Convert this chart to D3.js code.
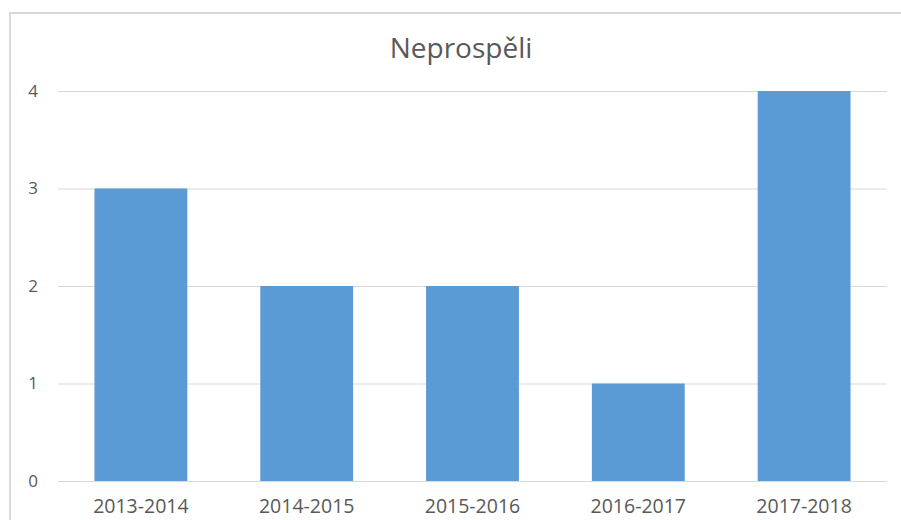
<!DOCTYPE html>
<html>
<head>
<meta charset="utf-8">
<script src="https://cdn.jsdelivr.net/npm/d3@7"></script>
<style>
  body { margin: 0; background: #fff; }
  text { font-family: "Open Sans", "Noto Sans", sans-serif; fill: #595959; }
</style>
</head>
<body>
<div id="grafico"></div>
<script>
// Datos del grafico
const categorias = ["2013-2014", "2014-2015", "2015-2016", "2016-2017", "2017-2018"];
const valores = [3, 2, 2, 1, 4];
const ticksY = [0, 1, 2, 3, 4];
const titulo = "Neprospěli";

const width = 901, height = 520;
const margin = { top: 91, right: 14, bottom: 39, left: 58 };

const svg = d3
  .select("#grafico")
  .append("svg")
  .attr("width", width)
  .attr("height", height);

// Borde del area del grafico (solo arriba e izquierda visibles)
svg.append("path")
  .attr("d", "M10,520 V13 H901")
  .attr("fill", "none")
  .attr("stroke", "#d9d9d9")
  .attr("stroke-width", 2);

const x = d3.scaleBand()
  .domain(categorias)
  .range([margin.left, width - margin.right])
  .paddingInner(0.44)
  .paddingOuter(0.22);

const y = d3.scaleLinear()
  .domain([0, 4])
  .range([height - margin.bottom, margin.top]);

// Lineas de la cuadricula
svg.append("g")
  .selectAll("line")
  .data(ticksY)
  .enter()
  .append("line")
  .attr("x1", margin.left)
  .attr("x2", width - margin.right)
  .attr("y1", d => y(d) + 0.5)
  .attr("y2", d => y(d) + 0.5)
  .attr("stroke", "#d9d9d9")
  .attr("stroke-width", 1);

// Barras
svg.append("g")
  .selectAll("rect")
  .data(valores)
  .enter()
  .append("rect")
  .attr("x", (d, i) => x(categorias[i]))
  .attr("y", d => y(d))
  .attr("width", x.bandwidth())
  .attr("height", d => y(0) - y(d))
  .attr("fill", "#5b9bd5");

// Etiquetas eje Y
svg.append("g")
  .selectAll("text")
  .data(ticksY)
  .enter()
  .append("text")
  .attr("x", 38)
  .attr("y", d => y(d))
  .attr("dy", ".35em")
  .attr("text-anchor", "end")
  .style("font-size", "17px")
  .text(d => d);

// Etiquetas eje X
svg.append("g")
  .selectAll("text")
  .data(categorias)
  .enter()
  .append("text")
  .attr("x", d => x(d) + x.bandwidth() / 2)
  .attr("y", 513)
  .attr("text-anchor", "middle")
  .style("font-size", "19.5px")
  .text(d => d);

// Titulo
svg.append("text")
  .attr("x", 461)
  .attr("y", 58)
  .attr("text-anchor", "middle")
  .style("font-size", "28px")
  .text(titulo);
</script>
</body>
</html>
